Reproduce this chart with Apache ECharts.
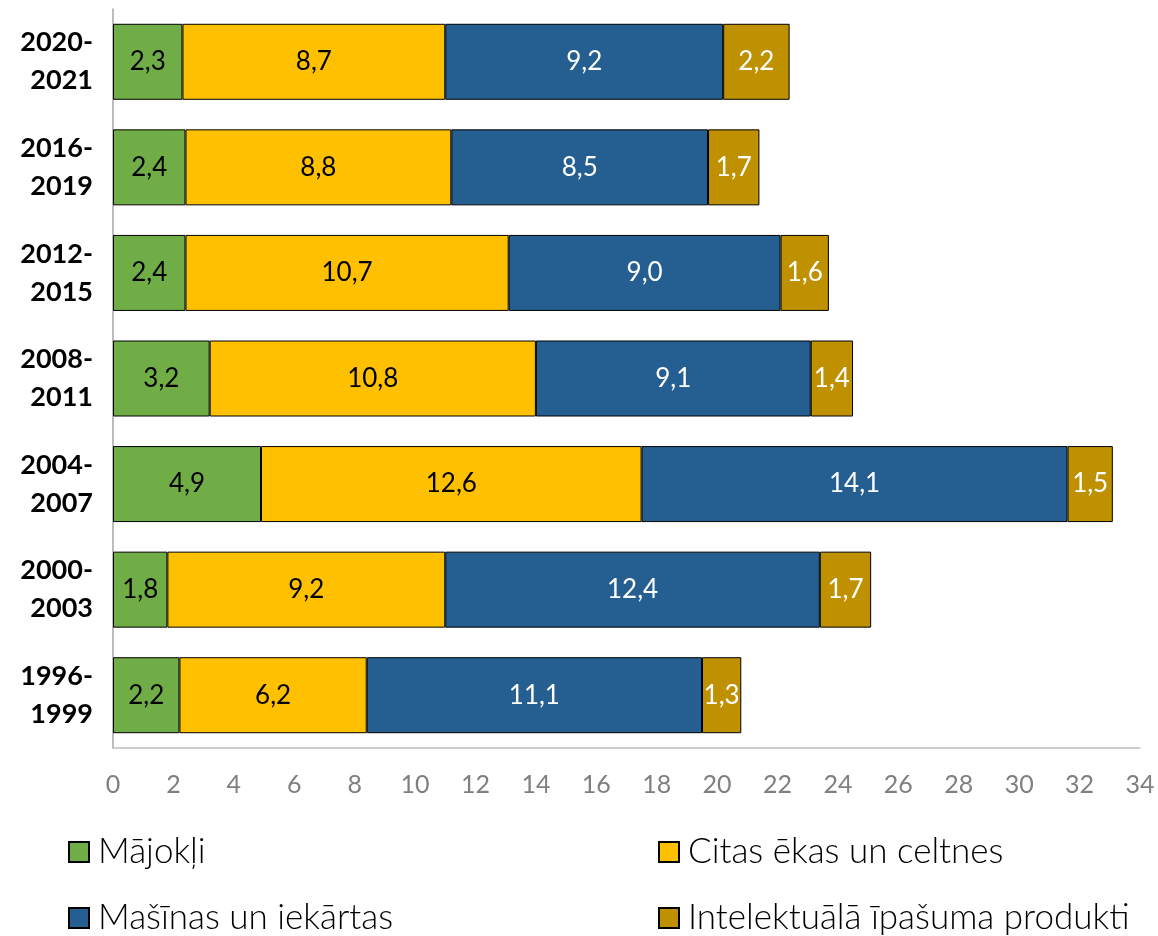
<!DOCTYPE html>
<html>
<head>
<meta charset="utf-8">
<script src="https://cdn.jsdelivr.net/npm/echarts@6/dist/echarts.min.js"></script>
<style>
  html, body { margin: 0; padding: 0; background: #fff; }
  #chart01 { width: 1158px; height: 936px; }
</style>
</head>
<body>
<div id="chart01"></div>
<script>
// periods, bottom to top
var periods = ['1996-\n1999', '2000-\n2003', '2004-\n2007', '2008-\n2011', '2012-\n2015', '2016-\n2019', '2020-\n2021'];
var seriesNames = ['Mājokļi', 'Citas ēkas un celtnes', 'Mašīnas un iekārtas', 'Intelektuālā īpašuma produkti'];
var majokli = [2.2, 1.8, 4.9, 3.2, 2.4, 2.4, 2.3];
var citasEkas = [6.2, 9.2, 12.6, 10.8, 10.7, 8.8, 8.7];
var masinas = [11.1, 12.4, 14.1, 9.1, 9.0, 8.5, 9.2];
var intelektualie = [1.3, 1.7, 1.5, 1.4, 1.6, 1.7, 2.2];

var colors = ['#70AD47', '#FFC000', '#255E91', '#BF9000'];
var labelColors = ['#000', '#000', '#fff', '#fff'];
var allData = [majokli, citasEkas, masinas, intelektualie];

var chart01 = echarts.init(document.getElementById('chart01'), null, { renderer: 'canvas' });

var series = allData.map(function (vals, i) {
  return {
    name: seriesNames[i],
    type: 'bar',
    stack: 'total',
    barWidth: 76,
    data: vals,
    itemStyle: { color: colors[i], borderColor: '#000', borderWidth: 1 },
    label: {
      show: true,
      position: 'inside',
      color: labelColors[i],
      fontFamily: 'Lato',
      fontSize: 26,
      formatter: function (p) { return p.value.toFixed(1).replace('.', ','); }
    }
  };
});

// one legend per entry: 2 x 2 grid under the axis
var legendPos = [[68, 832], [658, 832], [68, 898], [658, 898]];
var legends = seriesNames.map(function (name, i) {
  return {
    data: [name],
    left: legendPos[i][0],
    top: legendPos[i][1],
    padding: 0,
    itemWidth: 20,
    itemHeight: 20,
    itemGap: 0,
    icon: 'rect',
    selectedMode: false,
    textStyle: { fontFamily: 'Lato', fontWeight: 300, fontSize: 35, color: '#000', lineHeight: 40, padding: [0, 0, 0, 4] }
  };
});

var option = {
  animation: false,
  grid: { left: 113, right: 18, top: 9, bottom: 188, containLabel: false },
  xAxis: {
    type: 'value',
    min: 0,
    max: 34,
    interval: 2,
    axisLine: { show: true, lineStyle: { color: '#bfbfbf', width: 1.5 } },
    axisTick: { show: false },
    splitLine: { show: false },
    axisLabel: { color: '#7f7f7f', fontFamily: 'Lato', fontSize: 25, margin: 24 }
  },
  yAxis: {
    type: 'category',
    data: periods,
    axisLine: { show: true, lineStyle: { color: '#a6a6a6', width: 1.5 } },
    axisTick: { show: false },
    axisLabel: { color: '#000', fontFamily: 'Lato', fontWeight: 'bold', fontSize: 27, lineHeight: 38, align: 'right', margin: 20 }
  },
  legend: legends,
  series: series
};

chart01.setOption(option);
</script>
</body>
</html>
